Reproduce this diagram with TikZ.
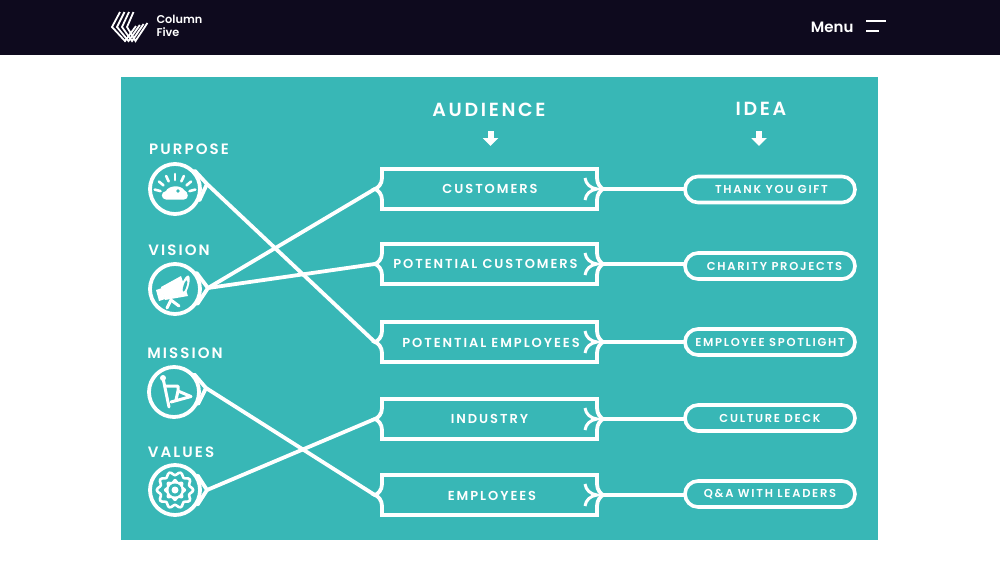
\documentclass[tikz,border=0pt]{standalone}
\usepackage{fontspec}
\setmainfont{Poppins}[BoldFont={Poppins SemiBold}]
\newfontfamily\capsfont[LetterSpace=15,BoldFont={Poppins SemiBold}]{Poppins}
\newfontfamily\headfont[LetterSpace=14,BoldFont={Poppins SemiBold}]{Poppins}
\usetikzlibrary{arrows.meta,shapes.misc,calc}
\definecolor{c5dark}{RGB}{14,10,30}
\definecolor{c5teal}{RGB}{56,183,182}
\tikzstyle{link} = [white, line width=3.8pt, line join=round, line cap=round]
\tikzstyle{frame} = [white, line width=3.8pt, line join=miter]
\tikzstyle{stalk} = [white, line width=3pt, line cap=round]
\tikzstyle{iconring} = [circle, minimum size=50pt, inner sep=0pt, draw=white, line width=3.8pt]
\tikzstyle{boxshape} = [rectangle, minimum width=228pt, minimum height=40pt, inner sep=0pt]
\tikzstyle{pill} = [rounded rectangle, minimum width=170pt, minimum height=26pt, inner sep=0pt, draw=white, line width=3.6pt, text=white, font=\capsfont\bfseries\fontsize{11.5}{13}\selectfont]
\tikzstyle{boxtext} = [text=white, font=\capsfont\bfseries\fontsize{13}{15}\selectfont]
\tikzstyle{sidehead} = [text=white, font=\headfont\bfseries\fontsize{15}{17}\selectfont]
\tikzstyle{colhead} = [text=white, font=\headfont\bfseries\fontsize{19}{22}\selectfont]
\tikzstyle{downarrow} = [white, line width=6pt, -{Triangle[width=15pt,length=8pt]}]
\begin{document}
\begin{tikzpicture}[x=1pt, y=-1pt]
\useasboundingbox (0,0) rectangle (1000,560);
\fill[white] (0,0) rectangle (1000,560);

% Page header
\fill[c5dark] (0,0) rectangle (1000,55);
\foreach \i in {0,...,3}
  \draw[white, line width=1.8pt] ({120+4.5*\i},12) -- ({112+5*\i},27) -- ({125+3.5*\i},41) -- ({136+3.8*\i},{26-1.0*\i});
\node[text=white, font=\bfseries\fontsize{11.3}{13}\selectfont, anchor=west] (brandtop) at (153,19.5) {Column};
\node[text=white, font=\bfseries\fontsize{11.3}{13}\selectfont, anchor=west] (brandbottom) at (153,32.5) {Five};
\node[text=white, font=\bfseries\fontsize{15}{18}\selectfont, anchor=east] (menu) at (857,27.5) {Menu};
\draw[white, line width=2pt] (866,21) -- (886,21);
\draw[white, line width=2pt] (866,31) -- (879,31);

% Panel
\fill[c5teal] (121,77) rectangle (878,540);

% Column headings
\node[colhead] (audience) at (489,110) {AUDIENCE};
\node[colhead] (idea) at (761,109) {IDEA};
\draw[downarrow] (490.5,131) -- (490.5,146);
\draw[downarrow] (759,131) -- (759,146);

% Left icons
\node[iconring] (purpose) at (175,189) {};
\node[iconring] (vision) at (175,289) {};
\node[iconring] (mission) at (174,392) {};
\node[iconring] (values) at (175,490) {};
\node[sidehead] (purposehead) at (189,149) {PURPOSE};
\node[sidehead] (visionhead) at (179,250) {VISION};
\node[sidehead] (missionhead) at (185,353) {MISSION};
\node[sidehead] (valueshead) at (181,452) {VALUES};
\coordinate (purpose-tip) at (207,184);
\coordinate (vision-tip) at (208,288);
\coordinate (mission-tip) at (206,388);
\coordinate (values-tip) at (207,490);
\foreach \who in {purpose,vision,mission,values}
  \draw[link] (tangent cs:node=\who,point={(\who-tip)},solution=1) -- (\who-tip) -- (tangent cs:node=\who,point={(\who-tip)},solution=2);

% Purpose icon
\fill[white] (166,199.5) .. controls (161,199.5) and (160,192) .. (166,191) .. controls (168,186) and (180,184) .. (184,190) .. controls (189,192) and (189,199.5) .. (184,199.5) -- cycle;
\fill[c5teal] (178,191) circle (1.8);
\foreach \a in {15,40,65,90,115,140,165}
  \draw[stalk, line width=2.6pt] ($(175,195)+(\a:-15)$) -- ($(175,195)+(\a:-21)$);

% Vision icon
\fill[white] (161,287) -- (181,276) -- (188,296) -- (165,300) -- cycle;
\fill[white, rotate around={-18:(185,286)}] (185,286) ellipse (3.5 and 11);
\fill[c5teal, rotate around={-18:(185,286)}] (185,286) ellipse (1.5 and 6);
\draw[stalk] (171,300) -- (167,308);
\draw[stalk] (171,300) -- (179,306);
\fill[white] (156,290) -- (162,288) -- (165,299) -- (159,301) -- cycle;

% Mission icon
\fill[white] (163,378) circle (3);
\draw[stalk] (163,378) -- (169,407);
\draw[stalk, line join=round] (166,386) -- (178,386) -- (178,391) -- (191,396.5) -- (171,402);
\draw[stalk] (178,391) -- (176,400);

% Values icon
\draw[white, line width=2.6pt, line join=round, shift={(values.center)}] plot[smooth cycle, samples=60, domain=0:354] (\x:{16.5+1.7*cos(10*\x)});
\fill[white, shift={(values.center)}] plot[smooth cycle, samples=48, domain=0:352.5] (\x:{10+1.2*cos(8*\x)});
\fill[c5teal] (values.center) circle (6.5);
\fill[white] (values.center) circle (3.5);

% Audience boxes
\node[boxshape] (customers) at (489,189) {};
\node[boxshape] (potcustomers) at (489,264) {};
\node[boxshape] (potemployees) at (489,342) {};
\node[boxshape] (industry) at (489,419) {};
\node[boxshape] (employees) at (489,495) {};
\foreach \b in {customers,potcustomers,potemployees,industry,employees} {
  \draw[frame, shift={(\b.center)}] (-107,-20) -- (108,-20) -- (108,-11) .. controls (108,-5) and (112,-1) .. (114,0)
    .. controls (112,1) and (108,5) .. (108,11) -- (108,20) -- (-107,20) -- (-107,11)
    .. controls (-107,5) and (-111,1) .. (-114,0) .. controls (-111,-1) and (-107,-5) .. (-107,-11) -- cycle;
  \draw[white, line width=3pt, shift={(\b.center)}] (96,-11) .. controls (97,-5) and (101,-1) .. (108,0) .. controls (101,1) and (97,5) .. (96,11);
}
\node[boxtext] (customerstext) at (490,189) {CUSTOMERS};
\node[boxtext] (potcustomerstext) at (485.5,264) {POTENTIAL CUSTOMERS};
\node[boxtext] (potemployeestext) at (491,343) {POTENTIAL EMPLOYEES};
\node[boxtext] (industrytext) at (489.5,419) {INDUSTRY};
\node[boxtext] (employeestext) at (492,496) {EMPLOYEES};

% Idea pills
\node[pill] (gift) at (770,189.5) {\hspace{3pt}THANK YOU GIFT};
\node[pill] (charity) at (770,266) {\hspace{9pt}CHARITY PROJECTS};
\node[pill] (spotlight) at (770,342) {EMPLOYEE SPOTLIGHT};
\node[pill] (deck) at (770,418) {CULTURE DECK};
\node[pill] (leaders) at (770,494) {Q\&A WITH LEADERS};

% Connectors
\draw[link] (purpose-tip) -- (potemployees.west);
\draw[link] (vision-tip) -- (customers.west);
\draw[link] (vision-tip) -- (potcustomers.west);
\draw[link] (mission-tip) -- (employees.west);
\draw[link] (values-tip) -- (industry.west);
\draw[link] (customers.east) -- (gift.west |- customers.east);
\draw[link] (potcustomers.east) -- (charity.west |- potcustomers.east);
\draw[link] (potemployees.east) -- (spotlight.west |- potemployees.east);
\draw[link] (industry.east) -- (deck.west |- industry.east);
\draw[link] (employees.east) -- (leaders.west |- employees.east);
\end{tikzpicture}
\end{document}
